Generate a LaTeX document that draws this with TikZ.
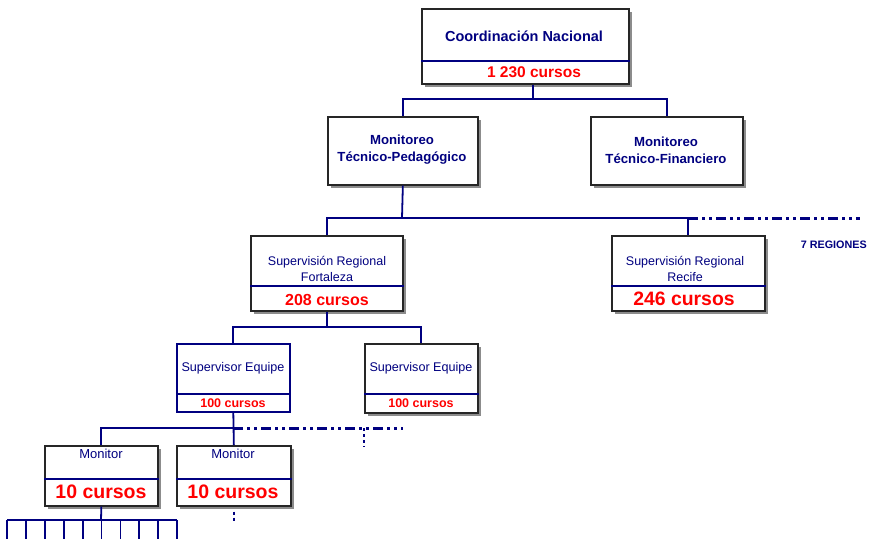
\documentclass[tikz,border=0pt]{standalone}
\usepackage{fontspec}
\setmainfont{Liberation Sans}
\usepackage{xcolor}
\usepackage{tikz}
\usetikzlibrary{calc,positioning,shadows}

\definecolor{azul}{RGB}{0,0,128}
\definecolor{rojo}{RGB}{255,0,0}

\newcommand{\tam}[1]{\fontsize{#1}{#1}\selectfont}

\begin{document}
\begin{tikzpicture}[
    x=1pt, y=-1pt,
    caja/.style={draw=black!85, line width=1.7pt, fill=white, anchor=north west, inner sep=0pt,
        drop shadow={shadow xshift=3pt, shadow yshift=-3pt, fill=black!45, opacity=1}},
    cajaazul/.style={draw=azul, line width=1.6pt, fill=white, anchor=north west, inner sep=0pt},
    division/.style={draw=azul, line width=1.3pt},
    conector/.style={draw=azul, line width=1.8pt},
    rayapunto/.style={draw=azul, line width=3pt, dash pattern=on 10pt off 4pt on 3pt off 4pt on 3pt off 4pt},
    puntos/.style={draw=azul, line width=2pt, dash pattern=on 3pt off 3pt},
    texto/.style={text=azul, align=center, inner sep=0pt},
    cursos/.style={text=rojo, inner sep=0pt, font=\bfseries},
]
\useasboundingbox (0,0) rectangle (874,538);

% cajas
\node [caja, minimum width=207pt, minimum height=75pt] (coord) at (421,8) {};
\node [caja, minimum width=150pt, minimum height=68pt] (pedag) at (327,116) {};
\node [caja, minimum width=152pt, minimum height=68pt] (finan) at (590,116) {};
\node [caja, minimum width=152pt, minimum height=75pt] (forta) at (250,235) {};
\node [caja, minimum width=153pt, minimum height=75pt] (recife) at (611,235) {};
\node [cajaazul, minimum width=113pt, minimum height=68pt] (equipeA) at (176,343) {};
\node [caja, minimum width=113pt, minimum height=69pt] (equipeB) at (364,343) {};
\node [caja, minimum width=113pt, minimum height=60pt] (monA) at (44,445) {};
\node [caja, minimum width=114pt, minimum height=60pt] (monB) at (176,445) {};

% divisiones
\draw [division] (coord.west |- 0,61) -- (coord.east |- 0,61);
\draw [division] (forta.west |- 0,286) -- (forta.east |- 0,286);
\draw [division] (recife.west |- 0,286) -- (recife.east |- 0,286);
\draw [division] (equipeA.west |- 0,394) -- (equipeA.east |- 0,394);
\draw [division] (equipeB.west |- 0,394) -- (equipeB.east |- 0,394);
\draw [division] (monA.west |- 0,479) -- (monA.east |- 0,479);
\draw [division] (monB.west |- 0,479) -- (monB.east |- 0,479);

% textos
\node [texto, font=\tam{14.5}\bfseries] (coordtxt) at (524,36) {Coordinación Nacional};
\node [cursos, font=\tam{15.5}\bfseries] (coordnum) at (534,72) {1 230 cursos};
\node [texto, font=\tam{13.2}\bfseries, align=center] (pedagtxt) at (402,150)
    {Monitoreo\\[4pt]Técnico-Pedagógico};
\node [texto, font=\tam{13.2}\bfseries, align=center] (finantxt) at (666,150)
    {Monitoreo\\[4pt]Técnico-Financiero};
\node [texto, font=\tam{12.5}] (fortatxt) at (327,269) {Supervisión Regional\\[4pt]Fortaleza};
\node [cursos, font=\tam{16}\bfseries] (fortanum) at (327,300) {208 cursos};
\node [texto, font=\tam{12.5}] (recifetxt) at (685,269) {Supervisión Regional\\[4pt]Recife};
\node [cursos, font=\tam{19.4}\bfseries] (recifenum) at (684,299) {246 cursos};
\node [texto, font=\tam{12.6}] (equipeAtxt) at (233,368) {Supervisor Equipe};
\node [cursos, font=\tam{12.5}\bfseries] (equipeAnum) at (233,403) {100 cursos};
\node [texto, font=\tam{12.6}] (equipeBtxt) at (421,368) {Supervisor Equipe};
\node [cursos, font=\tam{12.5}\bfseries] (equipeBnum) at (421,403) {100 cursos};
\node [texto, font=\tam{13}] (monAtxt) at (101,454) {Monitor};
\node [cursos, font=\tam{19.5}\bfseries] (monAnum) at (101,492) {10 cursos};
\node [texto, font=\tam{13}] (monBtxt) at (233,454) {Monitor};
\node [cursos, font=\tam{19.5}\bfseries] (monBnum) at (233,492) {10 cursos};
\node [texto, font=\tam{10.8}\bfseries, anchor=east] (regiones) at (867,245) {7 REGIONES};

% conectores
\coordinate (j1) at (533,99);
\coordinate (j2) at (402,218);
\coordinate (j3) at (326,327);
\coordinate (j4) at (233,428);
\coordinate (finreg) at (860,218);
\coordinate (finequipe) at (403,428);
\coordinate (j5) at (101,520);

\draw [conector] (coord.south -| j1) -- (j1);
\draw [conector] (pedag.north) |- (j1) -| (finan.north);
\draw [conector] (pedag.south) -- (j2);
\draw [conector] (forta.north) |- (j2) -| (recife.north);
\draw [rayapunto] (recife.north |- j2) -- (finreg);
\draw [conector] (forta.south) -- (forta.south |- j3);
\draw [conector] (equipeA.north) |- (j3) -| (equipeB.north);
\draw [conector] (equipeA.south) -- (monB.north);
\draw [conector] (monA.north) |- (j4);
\draw [rayapunto] (j4) -- (finequipe);
\draw [puntos] (364,428) -- (364,447);
\draw [conector] (monA.south) -- (j5);
\draw [conector] (7,520) -- (177,520);
\foreach \i in {0,...,9}
    \draw [conector] (7+18.9*\i,520) -- (7+18.9*\i,540);
\draw [puntos] (monB.south) ++(0,5) -- ++(0,9);
\end{tikzpicture}
\end{document}
